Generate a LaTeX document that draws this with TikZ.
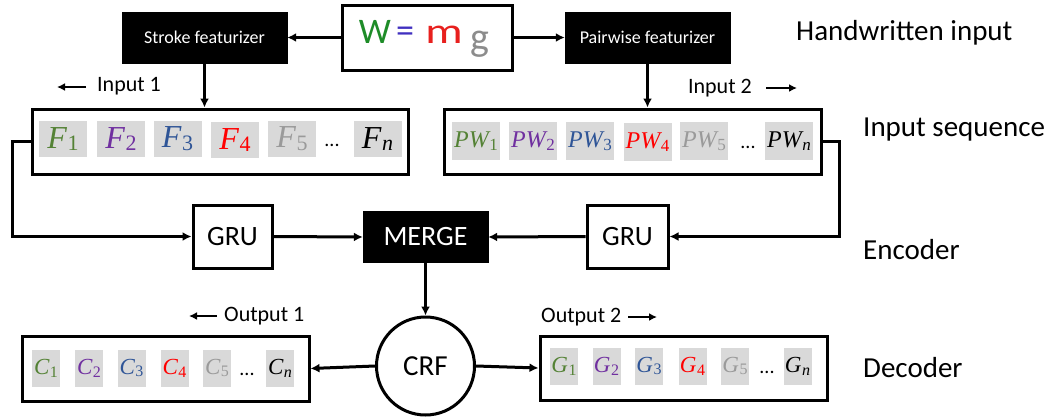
\documentclass[tikz,border=0pt]{standalone}
\usepackage{fontspec}
\setmainfont{Carlito}
\newfontfamily\sqf{Liberation Serif}
\usetikzlibrary{arrows.meta,calc}
\definecolor{cgreen}{HTML}{548235}
\definecolor{cpurple}{HTML}{7030A0}
\definecolor{cblue}{HTML}{2F5597}
\definecolor{cred}{HTML}{FF0000}
\definecolor{cgray}{HTML}{9A9A9A}
\definecolor{ceq}{HTML}{4030C0}
\definecolor{hwgreen}{HTML}{1E8C28}
\definecolor{hwred}{HTML}{E8201E}
\definecolor{hwgray}{HTML}{8C8C8C}
\definecolor{cellbg}{HTML}{D9D9D9}
% #1 letter(s), #2 subscript, #3 main size, #4 subscript size
\newcommand{\sv}[4]{{\sqf\itshape\fontsize{#3}{#3}\selectfont #1}\kern0.5pt\raisebox{-0.28em}{\sqf\fontsize{#4}{#4}\selectfont #2}}
\newcommand{\svn}[4]{{\sqf\itshape\fontsize{#3}{#3}\selectfont #1}\kern0.5pt\raisebox{-0.28em}{\sqf\itshape\fontsize{#4}{#4}\selectfont #2}}
\begin{document}
\begin{tikzpicture}[x=1pt,y=-1pt,
  conn/.style={line width=3pt,-{Latex[length=9pt,width=9pt]}},
  lab/.style={line width=2.6pt,-{Latex[length=8pt,width=8pt]}},
  blackbox/.style={fill=black,draw=black,text=white,inner sep=0pt},
  whitebox/.style={draw=black,line width=3pt,fill=white,inner sep=0pt},
  seqbox/.style={draw=black,line width=3pt,inner sep=0pt},
  bigcell/.style={fill=cellbg,inner sep=0pt,minimum width=48pt,minimum height=36pt},
  pwcell/.style={fill=cellbg,inner sep=0pt,minimum width=48pt,minimum height=38pt},
  smallcell/.style={fill=cellbg,inner sep=0pt,minimum width=28pt,minimum height=37pt},
  dots/.style={inner sep=0pt,font=\fontsize{20}{20}\selectfont},
  sidelabel/.style={anchor=west,inner sep=0pt,font=\fontsize{29}{34}\selectfont},
  smalllabel/.style={inner sep=0pt,font=\fontsize{22}{26}\selectfont},
  hw/.style={inner sep=0pt,font=\fontsize{36}{36}\selectfont}
]
\useasboundingbox (0,0) rectangle (1052,416);

% top row
\node[blackbox,minimum width=165pt,minimum height=51pt,font=\fontsize{18}{20}\selectfont] (stroke) at (204.5,37.5) {Stroke featurizer};
\node[whitebox,minimum width=170pt,minimum height=65pt] (hwbox) at (427,37.5) {};
\node[hw,text=hwgreen,anchor=base] (hwW) at (375,43) {W};
\node[hw,text=ceq,anchor=base] (hwEq) at (405,42) {=};
\node[hw,text=hwred,anchor=base] (hwm) at (444,43) {\scalebox{1.3}[1]{m}};
\node[hw,text=hwgray,anchor=base,font=\fontsize{40}{40}\selectfont] (hwg) at (480,50) {g};
\node[blackbox,minimum width=165pt,minimum height=51pt,font=\fontsize{18}{20}\selectfont] (pair) at (647.5,37.5) {Pairwise featurizer};

% input sequences
\node[seqbox,minimum width=376pt,minimum height=65pt] (in1) at (220,141.5) {};
\node[seqbox,minimum width=377pt,minimum height=65pt] (in2) at (632.5,141.5) {};

\node[bigcell] (f1) at (63,139) {\color{cgreen}\sv{F}{1}{32}{22}};
\node[bigcell] (f2) at (121,139) {\color{cpurple}\sv{F}{2}{32}{22}};
\node[bigcell] (f3) at (177.5,139) {\color{cblue}\sv{F}{3}{32}{22}};
\node[bigcell] (f4) at (235,140) {\color{cred}\sv{F}{4}{32}{22}};
\node[bigcell] (f5) at (292,139) {\color{cgray}\sv{F}{5}{32}{22}};
\node[dots] (fd) at (332,145) {...};
\node[bigcell] (fn) at (377.5,139) {\svn{F}{n}{32}{22}};

\node[pwcell] (p1) at (476,141) {\color{cgreen}\sv{PW}{1}{24}{17}};
\node[pwcell] (p2) at (533,141) {\color{cpurple}\sv{PW}{2}{24}{17}};
\node[pwcell] (p3) at (590,141) {\color{cblue}\sv{PW}{3}{24}{17}};
\node[pwcell] (p4) at (647.5,142) {\color{cred}\sv{PW}{4}{24}{17}};
\node[pwcell] (p5) at (704,141) {\color{cgray}\sv{PW}{5}{24}{17}};
\node[dots] (pd) at (748,147) {...};
\node[pwcell] (pn) at (789,141) {\svn{PW}{n}{24}{17}};

% encoder
\node[whitebox,minimum width=79pt,minimum height=63pt,font=\fontsize{28}{30}\selectfont] (gru1) at (232.5,236.5) {GRU};
\node[blackbox,minimum width=125pt,minimum height=51pt,font=\fontsize{28}{30}\selectfont] (merge) at (425.5,237) {MERGE};
\node[whitebox,minimum width=81pt,minimum height=63pt,font=\fontsize{28}{30}\selectfont] (gru2) at (627.5,236.5) {GRU};

% decoder
\node[draw=black,line width=3pt,circle,minimum size=98pt,inner sep=0pt,font=\fontsize{29}{30}\selectfont] (crf) at (425.5,366) {CRF};
\node[seqbox,minimum width=287pt,minimum height=65pt] (cbox) at (165.5,368.5) {};
\node[seqbox,minimum width=287pt,minimum height=64pt] (gbox) at (683.5,368) {};

\node[smallcell] (c1) at (46,368) {\color{cgreen}\sv{C}{1}{23}{16}};
\node[smallcell] (c2) at (89,368) {\color{cpurple}\sv{C}{2}{23}{16}};
\node[smallcell] (c3) at (131.5,368) {\color{cblue}\sv{C}{3}{23}{16}};
\node[smallcell] (c4) at (174.5,368) {\color{cred}\sv{C}{4}{23}{16}};
\node[smallcell] (c5) at (217,368) {\color{cgray}\sv{C}{5}{23}{16}};
\node[dots] (cd) at (247,374) {...};
\node[smallcell] (cn) at (280,368) {\svn{C}{n}{23}{16}};

\node[smallcell] (g1) at (564,366) {\color{cgreen}\sv{G}{1}{23}{16}};
\node[smallcell] (g2) at (606.5,366) {\color{cpurple}\sv{G}{2}{23}{16}};
\node[smallcell] (g3) at (649,366) {\color{cblue}\sv{G}{3}{23}{16}};
\node[smallcell] (g4) at (692.5,366) {\color{cred}\sv{G}{4}{23}{16}};
\node[smallcell] (g5) at (735,366) {\color{cgray}\sv{G}{5}{23}{16}};
\node[dots] (gd) at (767,372) {...};
\node[smallcell] (gn) at (797.5,366) {\svn{G}{n}{23}{16}};

% small labels
\node[smalllabel,anchor=west] (lin1) at (97,86) {Input 1};
\coordinate (lin1a) at (86,87);
\coordinate (lin1b) at (57,87);
\node[smalllabel,anchor=east] (lin2) at (752,88) {Input 2};
\coordinate (lin2a) at (766,88);
\coordinate (lin2b) at (797,88);
\node[smalllabel,anchor=west] (lout1) at (224,316) {Output 1};
\coordinate (lout1a) at (217,316);
\coordinate (lout1b) at (189,316);
\node[smalllabel,anchor=west] (lout2) at (541,317) {Output 2};
\coordinate (lout2a) at (628,317);
\coordinate (lout2b) at (657,317);

% side labels
\node[sidelabel] (sHW) at (796,33) {Handwritten input};
\node[sidelabel] (sIS) at (863,130) {Input sequence};
\node[sidelabel] (sEN) at (863,250) {Encoder};
\node[sidelabel] (sDE) at (863,368) {Decoder};

% connectors
\draw[conn] (hwbox.west) -- (stroke.east);
\draw[conn] (hwbox.east) -- (pair.west);
\draw[conn] (stroke.south) -- (stroke.south |- in1.north);
\draw[conn] (pair.south) -- (pair.south |- in2.north);
\coordinate (lt) at (12,141.5);
\coordinate (rt) at (839,141.5);
\draw[conn] (in1.west) -- (lt) |- (gru1.west);
\draw[conn] (in2.east) -- (rt) |- (gru2.east);
\draw[conn] (gru1.east) -- (merge.west);
\draw[conn] (gru2.west) -- (merge.east);
\draw[conn] (merge.south) -- (crf.north);
\draw[conn] (crf.west) -- (cbox.east);
\draw[conn] (crf.east) -- (gbox.west);
\draw[lab] (lin1a) -- (lin1b);
\draw[lab] (lin2a) -- (lin2b);
\draw[lab] (lout1a) -- (lout1b);
\draw[lab] (lout2a) -- (lout2b);
\end{tikzpicture}
\end{document}
